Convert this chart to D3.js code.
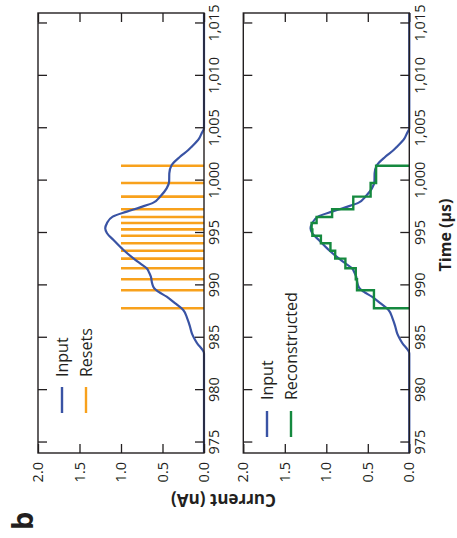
<!DOCTYPE html>
<html>
<head>
<meta charset="utf-8">
<script src="https://cdn.jsdelivr.net/npm/d3@7"></script>
<style>
  body { margin: 0; background: #fff; }
  svg text { font-family: "Open Sans", sans-serif; fill: #231f20; }
</style>
</head>
<body>
<svg id="fig"></svg>
<script>
// figure is drawn upright then turned a quarter turn counter-clockwise
const pageW = 457;
const pageH = 538;

const timeTicks = [975, 980, 985, 990, 995, 1000, 1005, 1010, 1015];
const currentTicks = [0, 0.5, 1.0, 1.5, 2.0];

// input current (nA) vs time (us)
const inputTime = [974, 983.0, 983.5, 984.5, 985.4, 986.1, 986.8, 987.65, 988.3, 988.92, 989.4, 989.72,
    990.2, 990.83, 991.2, 991.63, 992.1, 992.58, 993.38, 994.33, 995.0, 995.45, 995.92, 996.56,
    997.04, 997.45, 997.9, 998.47, 999.26, 999.9, 1000.69, 1001.49, 1002.28, 1002.92, 1003.24,
    1004.0, 1004.52, 1005.0, 1016];
const inputCurrent = [0, 0, 0, 0.085, 0.145, 0.17, 0.2, 0.25, 0.35, 0.45, 0.55, 0.6,
    0.625, 0.64, 0.66, 0.69, 0.77, 0.85, 0.97, 1.09, 1.17, 1.19, 1.17, 1.1,
    0.93, 0.77, 0.61, 0.53, 0.45, 0.42, 0.418, 0.389, 0.289, 0.189, 0.148,
    0.06, 0.028, 0, 0];

// reset events (us) and marker level
const resetTimes = [987.81, 989.53, 990.58, 991.63, 992.55, 993.31, 994.02, 994.74, 995.35,
    995.96, 996.53, 997.26, 998.47, 999.77, 1001.42];
const resetLevel = 1.0;

// reconstructed value held after each reset (last one returns to zero)
const reconValues = [0.426, 0.63, 0.645, 0.77, 0.893, 0.95, 1.065, 1.168, 1.177,
    1.117, 0.93, 0.675, 0.466, 0.40, 0];

const legendTop = ["Input", "Resets"];
const legendBottom = ["Input", "Reconstructed"];

const blue = "#3953a4", orange = "#f8a11c", green = "#15893f", ink = "#231f20";

const svg = d3.select("#fig")
    .attr("width", pageW)
    .attr("height", pageH);

const g = svg.append("g")
    .attr("transform", "translate(0," + pageH + ") rotate(-90)");

const x = d3.scaleLinear().domain([974, 1016]).range([85, 525]);

const panels = [
    {top: 38, bottom: 204, legend: legendTop, lx: 125, tx: 161, ly: 62},
    {top: 243.3, bottom: 409.3, legend: legendBottom, lx: 101, tx: 138, ly: 267}
];

const inputPts = inputTime.map((t, i) => [t, inputCurrent[i]]);

panels.forEach(function(p, k) {
    const y = d3.scaleLinear().domain([0, 2]).range([p.bottom, p.top]);
    const pg = g.append("g");

    const line = d3.line()
        .x(d => x(d[0]))
        .y(d => y(d[1]))
        .curve(d3.curveMonotoneX);

    if (k === 0) {
        pg.append("g")
            .selectAll("line")
            .data(resetTimes)
            .enter().append("line")
            .attr("x1", d => x(d)).attr("x2", d => x(d))
            .attr("y1", y(0)).attr("y2", y(resetLevel))
            .attr("stroke", orange)
            .attr("stroke-width", 2.6);
    }

    pg.append("path")
        .attr("d", line(inputPts))
        .attr("fill", "none")
        .attr("stroke", blue)
        .attr("stroke-width", 2.2);

    if (k === 1) {
        // step trace only between first and last reset
        const steps = [[resetTimes[0], 0]];
        resetTimes.forEach(function(t, i) {
            steps.push([t, reconValues[i]]);
        });
        pg.append("path")
            .attr("d", d3.line().x(d => x(d[0])).y(d => y(d[1])).curve(d3.curveStepAfter)(steps))
            .attr("fill", "none")
            .attr("stroke", green)
            .attr("stroke-width", 2.4);
    }

    // axes, ticks point inward
    pg.append("g")
        .attr("transform", "translate(0," + p.bottom + ")")
        .call(d3.axisBottom(x).tickValues(timeTicks).tickSize(-9).tickSizeOuter(0)
            .tickPadding(5).tickFormat(d3.format(",")));
    pg.append("g")
        .attr("transform", "translate(0," + p.top + ")")
        .call(d3.axisTop(x).tickValues(timeTicks).tickSize(-9).tickSizeOuter(0).tickFormat(""));
    pg.append("g")
        .attr("transform", "translate(" + x(974) + ",0)")
        .call(d3.axisLeft(y).tickValues(currentTicks).tickSize(-9).tickSizeOuter(0)
            .tickPadding(9).tickFormat(d3.format(".1f")));
    pg.append("g")
        .attr("transform", "translate(" + x(1016) + ",0)")
        .call(d3.axisRight(y).tickValues(currentTicks).tickSize(-9).tickSizeOuter(0).tickFormat(""));

    pg.selectAll(".domain").remove();
    pg.selectAll(".tick line").attr("stroke", ink).attr("stroke-width", 1.3);
    pg.selectAll(".tick text").attr("font-size", 14.5).attr("fill", ink);

    // frame over the traces so the zero edge reads dark navy
    pg.append("rect")
        .attr("x", x(974)).attr("y", p.top)
        .attr("width", x(1016) - x(974)).attr("height", p.bottom - p.top)
        .attr("fill", "none")
        .attr("stroke", ink)
        .attr("stroke-width", 1.4);

    // legend
    const colors = [blue, k === 0 ? orange : green];
    p.legend.forEach(function(name, i) {
        const ly = p.ly + i * 24;
        pg.append("line")
            .attr("x1", p.lx).attr("x2", p.lx + 26)
            .attr("y1", ly).attr("y2", ly)
            .attr("stroke", colors[i])
            .attr("stroke-width", 2.4);
        pg.append("text")
            .attr("x", p.tx).attr("y", ly)
            .attr("dy", "0.38em")
            .attr("font-size", 16)
            .text(name);
    });
});

g.append("text")
    .attr("x", 303).attr("y", 451)
    .attr("text-anchor", "middle")
    .attr("font-size", 16)
    .attr("font-weight", "bold")
    .text("Time (µs)");

g.append("text")
    .attr("transform", "translate(44,223.5) rotate(-90)")
    .attr("text-anchor", "middle")
    .attr("font-size", 17)
    .attr("font-weight", "bold")
    .text("Current (nA)");

g.append("text")
    .attr("x", 8).attr("y", 33)
    .attr("font-size", 29)
    .attr("font-weight", "bold")
    .text("b");
</script>
</body>
</html>
